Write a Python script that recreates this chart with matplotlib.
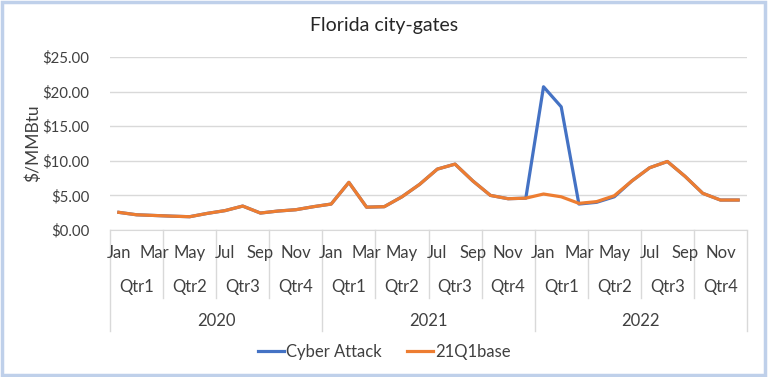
import numpy as np
import matplotlib
matplotlib.use("Agg")
import matplotlib.pyplot as plt
import matplotlib.transforms as mtransforms
from matplotlib.patches import Rectangle


# Data

months = ["Jan", "Feb", "Mar", "Apr", "May", "Jun", "Jul", "Aug", "Sep", "Oct", "Nov", "Dec"]
quarters = ["Qtr1", "Qtr2", "Qtr3", "Qtr4"]
years = ["2020", "2021", "2022"]

base_2020 = [2.55, 2.2, 2.1, 2.0, 1.92, 2.4, 2.8, 3.46, 2.45, 2.74, 2.93, 3.37]
base_2021 = [3.75, 6.88, 3.3, 3.37, 4.8, 6.6, 8.8, 9.52, 7.1, 5.0, 4.52, 4.6]
base_2022 = [5.2, 4.8, 3.85, 4.1, 4.95, 7.1, 9.0, 9.9, 7.75, 5.3, 4.33, 4.33]

cyber_2020 = [2.55, 2.2, 2.1, 2.0, 1.92, 2.4, 2.8, 3.46, 2.45, 2.74, 2.93, 3.37]
cyber_2021 = [3.75, 6.88, 3.3, 3.37, 4.8, 6.6, 8.8, 9.52, 7.1, 5.0, 4.52, 4.6]
cyber_2022 = [20.7, 17.8, 3.75, 4.0, 4.8, 7.1, 9.0, 9.9, 7.75, 5.3, 4.33, 4.33]

yticks = [0, 5, 10, 15, 20, 25]


# Plot variables

plt.rcParams["font.family"] = ["Lato", "DejaVu Sans"]
txt = "#404040"
grid = "#d9d9d9"
base = base_2020 + base_2021 + base_2022
cyber = cyber_2020 + cyber_2021 + cyber_2022
n = len(base)
x = np.arange(n)


# Plot

fig = plt.figure(figsize=(7.68, 3.77), dpi=100)
fig.patches.append(Rectangle((0.002, 0.004), 0.994, 0.992, transform=fig.transFigure,
                             fill=False, edgecolor="#bfd0ea", linewidth=2.5))

ax = fig.add_axes([110/768, 1 - 230/377, 637/768, 173/377])
ax.plot(x, cyber, color="#4472c4", lw=2.3, label="Cyber Attack")
ax.plot(x, base, color="#ed7d31", lw=2.3, label="21Q1base")

ax.set_xlim(-0.5, n - 0.5)
ax.set_ylim(0, 25)
ax.set_yticks(yticks)
ax.set_yticklabels([f"${v:.2f}" for v in yticks], fontsize=10.8, color=txt)
ax.tick_params(axis="y", length=0, pad=15)
ax.set_xticks([])
ax.yaxis.grid(True, color=grid, lw=1)
ax.set_axisbelow(True)
for s in ["top", "right", "left"]:
    ax.spines[s].set_visible(False)
ax.spines["bottom"].set_color(grid)
ax.set_ylabel("$/MMBtu", fontsize=12.5, color=txt)
ax.yaxis.set_label_coords(-0.108, 0.5)
fig.text(0.5, 1 - 26/377, "Florida city-gates", ha="center", va="center",
         fontsize=14, color="#262626")

# multi-level category axis
trans = mtransforms.blended_transform_factory(ax.transData, ax.transAxes)
for i in range(0, n, 2):
    ax.text(i, -0.133, months[i % 12], transform=trans, ha="center", va="center",
            fontsize=12, color=txt)
for q in range(n // 3):
    ax.text(q * 3 + 1, -0.329, quarters[q % 4], transform=trans, ha="center", va="center",
            fontsize=12, color=txt)
for k, yr in enumerate(years):
    ax.text(k * 12 + 5.5, -0.526, yr, transform=trans, ha="center", va="center",
            fontsize=12, color=txt)
for b in range(0, n + 1, 3):
    low = -0.584 if b % 12 == 0 else -0.393
    ax.plot([b - 0.5, b - 0.5], [0, low], transform=trans, color=grid, lw=1, clip_on=False)

fig.legend(loc="center", bbox_to_anchor=(0.5, 1 - 352/377), ncol=2, frameon=False,
           fontsize=12, handlelength=1.6, handletextpad=0.1, columnspacing=1.5,
           labelcolor=txt)

plt.savefig("out.png", dpi=100)
